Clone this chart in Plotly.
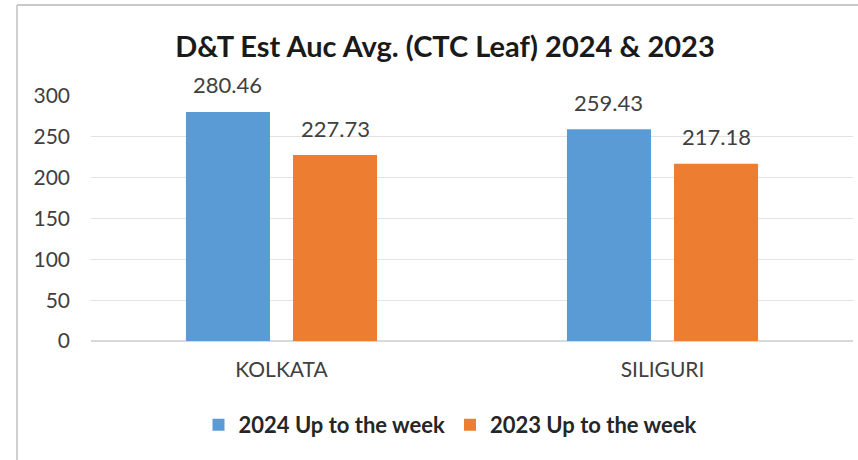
import plotly.graph_objects as go

categories = ["KOLKATA", "SILIGURI"]
series_names = ["2024 Up to the week", "2023 Up to the week"]
values_2024 = [280.46, 259.43]
values_2023 = [227.73, 217.18]
colors = ["#5b9bd5", "#ed7d31"]
y_ticks = [0, 50, 100, 150, 200, 250, 300]

FONT = "Lato"
fig = go.Figure()
for name, vals, col in zip(series_names, [values_2024, values_2023], colors):
    fig.add_trace(go.Bar(x=categories, y=vals, name=f"<b>{name}</b>", marker=dict(color=col, line=dict(width=0))))

# data labels
shifts = [-54, 54]
for s, vals in zip(shifts, [values_2024, values_2023]):
    for c, v in zip(categories, vals):
        fig.add_annotation(x=c, y=v, text=f"{v:.2f}", showarrow=False, xshift=s, yshift=27,
                           yanchor="middle", font=dict(family=FONT, size=22, color="#404040"))

W, H = 858, 460
L, R, T, B = 91, 5, 96, 119
PW, PH = W - L - R, H - T - B
fig.update_layout(
    width=W, height=H,
    margin=dict(l=L, r=R, t=T, b=B, autoexpand=False),
    paper_bgcolor="white", plot_bgcolor="white",
    title=dict(text="<b>D&T Est Auc Avg. (CTC Leaf) 2024 & 2023</b>", x=445 / W, xanchor="center",
               y=1 - 47 / H, yref="container", yanchor="middle",
               font=dict(family=FONT, size=29, color="#1a1a1a")),
    barmode="group", bargap=0.438, bargroupgap=0.215,
    showlegend=True,
    legend=dict(orientation="h", x=(450 - L) / PW, xanchor="center", y=-84 / PH, yanchor="middle",
                font=dict(family=FONT, size=22, color="#262626"), itemwidth=30,
                traceorder="normal"),
    font=dict(family=FONT),
)
fig.update_yaxes(range=[0, 300], tickvals=y_ticks, showgrid=True, gridcolor="#e3e3e3", gridwidth=1,
                 zeroline=True, zerolinecolor="#d9d9d9", showline=False,
                 tickfont=dict(family=FONT, size=21, color="#404040"), ticks="", ticklabelstandoff=20)
fig.update_xaxes(showline=False, ticks="", tickfont=dict(family=FONT, size=21, color="#404040"),
                 ticklabelstandoff=14)
# frame lines
ytop = (H - 5 - B) / PH
xl = (17 - L) / PW
fig.add_shape(type="line", xref="paper", yref="paper", x0=xl, x1=1.02, y0=ytop, y1=ytop,
              line=dict(color="#c8c8c8", width=2))
fig.add_shape(type="line", xref="paper", yref="paper", x0=xl, x1=xl, y0=ytop, y1=-0.5,
              line=dict(color="#d0d0d0", width=2))
fig.write_html("out.html", config={"displayModeBar": False},
               post_script="document.body.style.margin='0px';")
